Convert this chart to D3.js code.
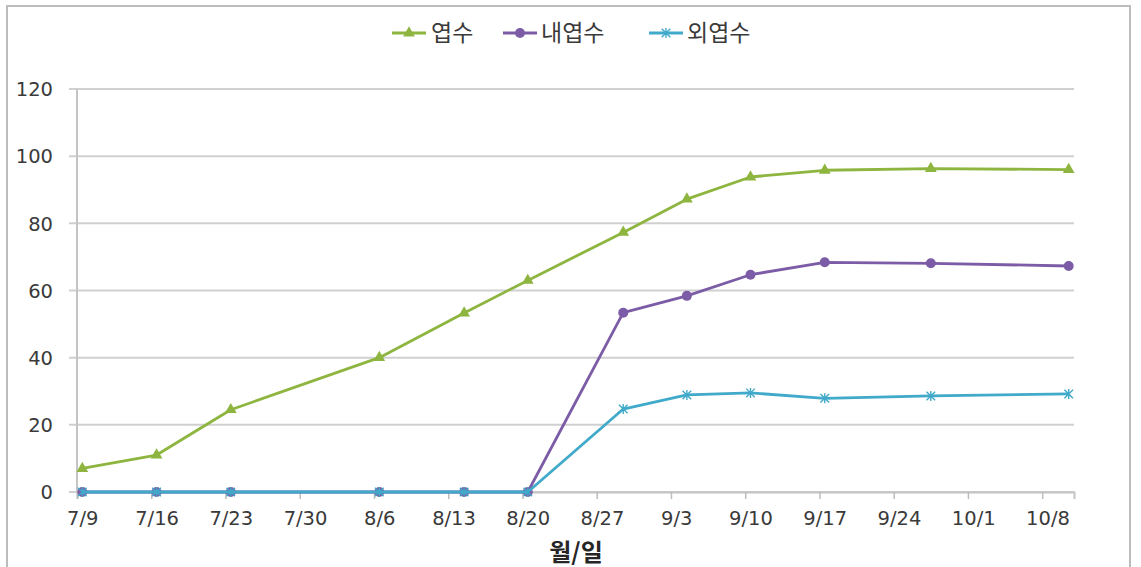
<!DOCTYPE html>
<html>
<head>
<meta charset="utf-8">
<script src="https://cdn.jsdelivr.net/npm/d3@7"></script>
<style>
  html, body { margin: 0; padding: 0; background: #fff; }
  svg { display: block; }
  .tick-label { font-family: "DejaVu Sans", sans-serif; font-size: 19.5px; fill: #3a3a3a; }
  .legend-text { font-family: "Noto Sans CJK KR", sans-serif; font-size: 23px; fill: #3a3a3a; }
  .axis-title { font-family: "Noto Sans CJK KR", sans-serif; font-size: 24px; font-weight: bold; fill: #262626; }
</style>
</head>
<body>
<svg id="chart" width="1141" height="567"></svg>
<script>
// Observation dates (month/day) and leaf counts per series
const obsDates   = ["7/9", "7/16", "7/23", "8/6", "8/14", "8/20", "8/29", "9/4", "9/10", "9/17", "9/27", "10/10"];
const leafTotal  = [7, 11, 24.5, 40, 53.3, 63, 77.3, 87.2, 93.8, 95.8, 96.3, 96];
const leafInner  = [0, 0, 0, 0, 0, 0, 53.4, 58.4, 64.7, 68.4, 68.1, 67.3];
const leafOuter  = [0, 0, 0, 0, 0, 0, 24.7, 28.9, 29.5, 27.9, 28.6, 29.2];

const seriesNames = ["엽수", "내엽수", "외엽수"];
const xTickLabels = ["7/9", "7/16", "7/23", "7/30", "8/6", "8/13", "8/20", "8/27", "9/3", "9/10", "9/17", "9/24", "10/1", "10/8"];
const yTicks = [0, 20, 40, 60, 80, 100, 120];
const xTitle = "월/일";

const YEAR = 2014;
const DAY = 864e5;
const parseMD = s => { const [m, d] = s.split("/").map(Number); return new Date(Date.UTC(YEAR, m - 1, d)); };

const svg = d3.select("#chart");

// outer frame
svg.append("rect")
  .attr("x", 7).attr("y", 6).attr("width", 1123).attr("height", 580)
  .attr("fill", "none").attr("stroke", "#bdbdbd").attr("stroke-width", 2);

const plotLeft = 77, plotRight = 1074, plotTop = 89, plotBottom = 492;

// date axis: each day occupies a slot; points sit in the middle of their day
const x = d3.scaleUtc()
  .domain([parseMD("7/9"), parseMD("10/11")])
  .range([plotLeft, plotRight]);
const halfDay = x(new Date(parseMD("7/9").getTime() + DAY / 2)) - x(parseMD("7/9"));
const xp = s => x(parseMD(s)) + halfDay;

const y = d3.scaleLinear().domain([0, 120]).range([plotBottom, plotTop]);

// horizontal gridlines
svg.append("g")
  .selectAll("line")
  .data(yTicks)
  .join("line")
  .attr("x1", plotLeft - 8).attr("x2", plotRight)
  .attr("y1", d => y(d)).attr("y2", d => y(d))
  .attr("stroke", "#d0d0d0").attr("stroke-width", 2);

// y axis line
svg.append("line")
  .attr("x1", plotLeft).attr("x2", plotLeft).attr("y1", plotTop).attr("y2", plotBottom)
  .attr("stroke", "#c4c4c4").attr("stroke-width", 2);

// y axis labels
const yAxis = d3.axisLeft(y).tickValues(yTicks).tickSize(0).tickPadding(24);
const gy = svg.append("g").attr("transform", `translate(${plotLeft},0)`).call(yAxis);
gy.select(".domain").remove();
gy.selectAll("text").attr("class", "tick-label").attr("dy", "0.35em");

// x axis with weekly tick marks and day-centred labels
const xAxis = d3.axisBottom(x)
  .tickValues(xTickLabels.map(parseMD))
  .tickSize(7)
  .tickPadding(12)
  .tickFormat((d, i) => xTickLabels[i]);
const gx = svg.append("g").attr("transform", `translate(0,${plotBottom})`).call(xAxis);
gx.select(".domain").attr("stroke", "#c4c4c4").attr("stroke-width", 2);
gx.selectAll(".tick line").attr("stroke", "#bdbdbd").attr("stroke-width", 1.5);
gx.selectAll("text").attr("class", "tick-label").attr("x", halfDay);

// x axis title
svg.append("text")
  .attr("class", "axis-title")
  .attr("x", 576).attr("y", 561)
  .attr("text-anchor", "middle")
  .text(xTitle);

const colors = ["#8db53f", "#7c5ca6", "#41a9c9"];
const values = [leafTotal, leafInner, leafOuter];

const triangle = d3.symbol().type(d3.symbolTriangle).size(60);
const asterisk = "M0,-5V5M-4.3,-4.3L4.3,4.3M-4.3,4.3L4.3,-4.3";

function drawMarker(g, k, cx, cy) {
  if (k === 0) {
    g.append("path").attr("d", triangle()).attr("transform", `translate(${cx},${cy})`)
      .attr("fill", colors[0]);
  } else if (k === 1) {
    g.append("circle").attr("cx", cx).attr("cy", cy).attr("r", 5).attr("fill", colors[1]);
  } else {
    g.append("path").attr("d", asterisk).attr("transform", `translate(${cx},${cy})`)
      .attr("fill", "none").attr("stroke", colors[2]).attr("stroke-width", 1.4);
  }
}

const plot = svg.append("g");
values.forEach((vals, k) => {
  const pts = obsDates.map((d, i) => [xp(d), y(vals[i])]);
  const g = plot.append("g");
  g.append("path")
    .attr("d", d3.line()(pts))
    .attr("fill", "none")
    .attr("stroke", colors[k])
    .attr("stroke-width", 2.8)
    .attr("stroke-linejoin", "round");
  pts.forEach(p => drawMarker(g, k, p[0], p[1]));
});

// legend
const legendItems = [
  { x: 392, tx: 431 },
  { x: 503, tx: 541 },
  { x: 649, tx: 687 }
];
const lg = svg.append("g");
legendItems.forEach((it, k) => {
  const ly = 33;
  lg.append("line").attr("x1", it.x).attr("x2", it.x + 34).attr("y1", ly).attr("y2", ly)
    .attr("stroke", colors[k]).attr("stroke-width", 2.8);
  drawMarker(lg, k, it.x + 17, ly);
  lg.append("text").attr("class", "legend-text")
    .attr("x", it.tx).attr("y", ly).attr("dy", "0.36em")
    .text(seriesNames[k]);
});
</script>
</body>
</html>
